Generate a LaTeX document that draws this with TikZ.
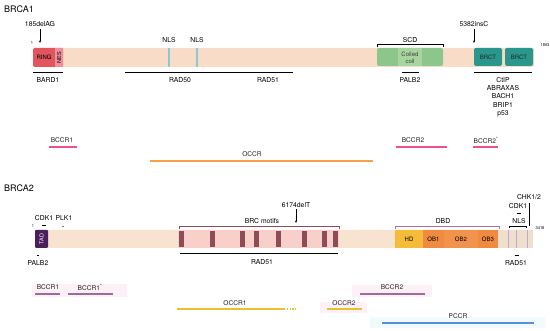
\documentclass[tikz,border=0pt]{standalone}
\usepackage{fontspec}
\setmainfont{TeX Gyre Heros}
\usetikzlibrary{arrows.meta}
\definecolor{bara}{HTML}{F9DCC8}
\definecolor{barb}{HTML}{F8E3D1}
\definecolor{brcpink}{HTML}{F8CFC9}
\definecolor{tailtan}{HTML}{EEE0CC}
\definecolor{ringred}{HTML}{E0565C}
\definecolor{nespink}{HTML}{F08E9C}
\definecolor{nlsteal}{HTML}{86CAD4}
\definecolor{ccgreen}{HTML}{8DC68B}
\definecolor{cclight}{HTML}{A8D49F}
\definecolor{brctteal}{HTML}{2A978C}
\definecolor{tadpurple}{HTML}{4B1F5B}
\definecolor{brcbar}{HTML}{8E4B58}
\definecolor{dbdpurple}{HTML}{B070A8}
\definecolor{hdyellow}{HTML}{F4BC38}
\definecolor{oborange}{HTML}{F08A40}
\definecolor{oborange2}{HTML}{F1934A}
\definecolor{nlspurple}{HTML}{C9A0D8}
\definecolor{bccrpink}{HTML}{EE4E93}
\definecolor{occrorange}{HTML}{F7A348}
\definecolor{bccrmauve}{HTML}{A06A9C}
\definecolor{occryellow}{HTML}{E6C22E}
\definecolor{pccrblue}{HTML}{5A8EE0}
\definecolor{bandpink}{HTML}{FDF1F7}
\definecolor{bandcyan}{HTML}{F0FBFD}
\begin{document}
\begin{tikzpicture}[x=1pt,y=-1pt,
  every node/.style={inner sep=0pt},
  ttl/.style={font=\fontsize{9}{11}\selectfont, anchor=west},
  lbl/.style={font=\fontsize{6.8}{8}\selectfont},
  boxtxt/.style={font=\fontsize{6}{6.5}\selectfont},
  tinytxt/.style={font=\fontsize{4}{4.5}\selectfont},
  bindline/.style={line width=0.9pt, black},
  mutarrow/.style={-{Stealth[length=2.5pt,width=2pt]}, line width=0.4pt, shorten <=1.5pt},
  brk/.style={line width=0.5pt},
  clus/.style={line width=1.2pt},
  clbl/.style={font=\fontsize{6.6}{8}\selectfont, text=black!85}
]
\useasboundingbox (0,0) rectangle (550,331);

% ================= BRCA1 =================
\node[ttl] (t1) at (4,9) {BRCA1};
\fill[bara, rounded corners=1pt] (33,48) rectangle (534,67);
\fill[ringred, rounded corners=1.5pt] (33,48) rectangle (63,67);
\fill[nespink] (55,48) rectangle (63,67);
\node[boxtxt] (ring) at (44,57.5) {RING};
\node[boxtxt, rotate=90, font=\fontsize{5.5}{6}\selectfont] (nes) at (59,57.5) {NES};
\node[tinytxt] (n1) at (32,43.5) {1};
\node[tinytxt] (n1863) at (545,45) {1863};
% NLS
\draw[nlsteal, line width=1.4pt] (169,48) -- (169,67);
\draw[nlsteal, line width=1.4pt] (197,48) -- (197,67);
\node[lbl] (nls1) at (169,40) {NLS};
\node[lbl] (nls2) at (197,40) {NLS};
% mutation 185delAG
\node[lbl] (m185) at (40,24.5) {185delAG};
\coordinate (m185t) at (40,43);
\draw[mutarrow] (m185) -- (m185t);
% SCD / coiled coil
\draw[brk] (377,47.5) -- (377,44.5) -- (443,44.5) -- (443,47.5);
\node[lbl] (scd) at (410,40) {SCD};
\fill[ccgreen, rounded corners=2pt] (377,48) rectangle (443,66);
\fill[cclight] (398,48) rectangle (422,66);
\node[boxtxt, align=center, text=black!75] (cc) at (410,57.5) {Coiled\\[0.5pt]coil};
% 5382insC
\node[lbl] (m5382) at (474,24.5) {5382insC};
\coordinate (m5382t) at (474,43);
\draw[mutarrow] (m5382) -- (m5382t);
% BRCT
\fill[brctteal, rounded corners=1.5pt] (474,48) rectangle (502,66);
\fill[brctteal, rounded corners=1.5pt] (505,48) rectangle (533,66);
\node[boxtxt, text=black!85] (brct1) at (488,57.5) {BRCT};
\node[boxtxt, text=black!85] (brct2) at (519,57.5) {BRCT};
% binding partners
\draw[bindline] (33,72) -- (63,72);
\node[lbl] (bard1) at (48,80.5) {BARD1};
\draw[bindline] (125,72) -- (293,72);
\node[lbl] (rad50) at (180,80.5) {RAD50};
\node[lbl] (rad51a) at (268,80.5) {RAD51};
\draw[bindline] (402,72) -- (419,72);
\node[lbl] (palb2a) at (410,80.5) {PALB2};
\draw[bindline] (474,72) -- (532,72);
\node[lbl, align=center, anchor=north, font=\fontsize{6.8}{8.3}\selectfont] (brctp) at (503,77) {CtIP\\ABRAXAS\\BACH1\\BRIP1\\p53};
% cluster regions
\node[clbl] (bccr1a) at (62,140) {BCCR1};
\draw[clus, bccrpink] (49,147) -- (77,147);
\node[clbl] (occr) at (252,154) {OCCR};
\draw[clus, occrorange] (150,161) -- (373,161);
\node[clbl] (bccr2a) at (413,140) {BCCR2};
\draw[clus, bccrpink] (396,147) -- (447,147);
\node[clbl] (bccr2s) at (486,140) {BCCR2\textsuperscript{*}};
\draw[clus, bccrpink] (473,147) -- (498,147);

% ================= BRCA2 =================
\node[ttl] (t2) at (4,188) {BRCA2};
\fill[barb, rounded corners=1pt] (35,230) rectangle (533,248);
\fill[brcpink] (178,230) rectangle (339,248);
\fill[tailtan] (499,230) rectangle (533,248);
\fill[tadpurple, rounded corners=1pt] (35,230) rectangle (48,248);
\node[boxtxt, rotate=90, text=white, font=\fontsize{5.5}{6}\selectfont] (tad) at (41.5,239) {TAD};
\node[tinytxt] (n1b) at (33,226.5) {1};
\node[tinytxt] (n3418) at (540,228) {3418};
% CDK1 / PLK1
\node[lbl] (cdk1a) at (44,218) {CDK1};
\node[lbl] (plk1) at (64,218) {PLK1};
\draw[line width=0.9pt] (42,225.5) -- (46,225.5);
\fill (63,226.5) circle (0.6);
% PALB2
\draw[line width=0.9pt] (37,255) -- (39,255);
\node[lbl] (palb2b) at (38,263) {PALB2};
% BRC motifs
\foreach \xx in {179,210,240,254,276,302,322,333}
  \fill[brcbar] (\xx,231) rectangle (\xx+5,247);
\draw[brk, brcbar] (179,229) -- (179,226) -- (339,226) -- (339,229);
\node[lbl] (brcm) at (262,221) {BRC motifs};
\node[lbl] (m6174) at (296,205) {6174delT};
\coordinate (m6174t) at (296,223);
\draw[mutarrow] (m6174) -- (m6174t);
\draw[bindline] (180,253) -- (338,253);
\node[lbl] (rad51b) at (262,262) {RAD51};
% DBD
\draw[brk, dbdpurple] (395,229) -- (395,226) -- (499,226) -- (499,229);
\node[lbl] (dbd) at (443,221) {DBD};
\fill[hdyellow] (395,230) rectangle (423,248);
\fill[oborange] (423,230) rectangle (444,248);
\fill[oborange2] (444,230) rectangle (478,248);
\fill[oborange] (478,230) rectangle (498,248);
\node[boxtxt] (hd) at (409,239) {HD};
\node[boxtxt] (ob1) at (433.5,239) {OB1};
\node[boxtxt] (ob2) at (461,239) {OB2};
\node[boxtxt] (ob3) at (488,239) {OB3};
% C-terminal NLS etc.
\foreach \xx in {508,516,527}
  \draw[nlspurple, line width=0.9pt] (\xx,230) -- (\xx,248);
\draw[brk] (509,228) -- (509,226) -- (526,226) -- (526,228);
\node[lbl] (nlsb) at (519,221) {NLS};
\draw[line width=0.9pt] (516.5,213.5) -- (521,213.5);
\node[lbl] (cdk1b) at (518,206) {CDK1};
\node[lbl] (chk) at (529,197) {CHK1/2};
\coordinate (chkt) at (529,226);
\draw[line width=0.7pt] (529,203) -- (chkt);
\draw[line width=0.9pt] (514.5,255) -- (518.5,255);
\node[lbl] (rad51c) at (516,263) {RAD51};
% cluster regions
\fill[bandpink] (32,284) rectangle (127,297);
\fill[bandpink] (352,285) rectangle (432,297);
\fill[bandpink] (320,302) rectangle (367,313);
\fill[bandcyan] (370,317) rectangle (545,328);
\node[clbl] (bccr1b) at (48,287) {BCCR1};
\draw[clus, bccrmauve] (35,294) -- (60,294);
\node[clbl] (bccr1s) at (90,287) {BCCR1\textsuperscript{*}};
\draw[clus, bccrmauve] (68,294) -- (113,294);
\node[clbl] (occr1) at (235,303) {OCCR1};
\draw[clus, occryellow] (177,309) -- (285,309);
\draw[clus, occryellow, dash pattern=on 1.2pt off 1.5pt] (287,309) -- (296,309);
\node[clbl] (occr2) at (344,303) {OCCR2};
\draw[clus, occryellow] (327,309) -- (362,309);
\node[clbl] (bccr2b) at (392,287) {BCCR2};
\draw[clus, bccrmauve] (360,294) -- (425,294);
\node[clbl] (pccr) at (458,316) {PCCR};
\draw[clus, pccrblue] (382,323) -- (534,323);
\end{tikzpicture}
\end{document}
